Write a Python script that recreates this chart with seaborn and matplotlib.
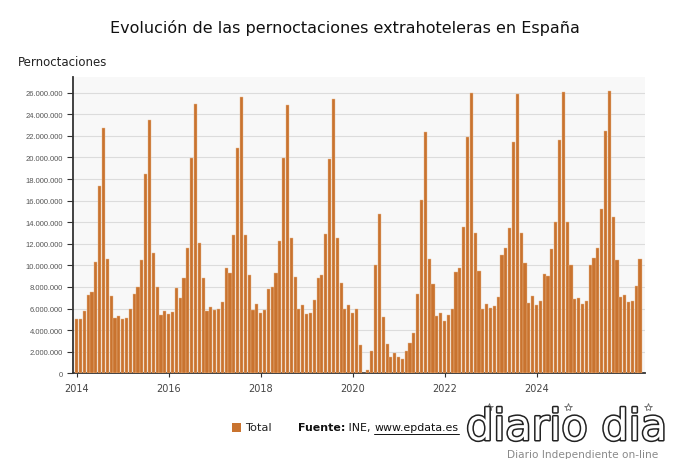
import numpy as np
import pandas as pd
import matplotlib
matplotlib.use("Agg")
import matplotlib.pyplot as plt
import matplotlib.patheffects as pe
from matplotlib.patches import Rectangle
from matplotlib.lines import Line2D
from matplotlib.ticker import FuncFormatter, FixedLocator
import seaborn as sns

# ---------------- data (millions of overnight stays, monthly) ----------------
years = ["2014", "2016", "2018", "2020", "2022", "2024"]
v2014 = [5.04, 5.00, 5.78, 7.23, 7.50, 10.30, 17.33, 22.76, 10.60, 7.14, 5.10, 5.35]
v2015 = [5.07, 5.10, 5.96, 7.35, 8.03, 10.50, 18.50, 23.50, 11.15, 8.03, 5.40, 5.78]
v2016 = [5.50, 5.68, 7.90, 6.95, 8.80, 11.60, 19.93, 24.93, 12.10, 8.80, 5.75, 6.15]
v2017 = [5.84, 5.93, 6.64, 9.79, 9.30, 12.82, 20.85, 25.58, 12.85, 9.08, 5.90, 6.40]
v2018 = [5.62, 5.84, 7.80, 7.97, 9.30, 12.30, 19.93, 24.87, 12.54, 8.90, 5.99, 6.33]
v2019 = [5.47, 5.62, 6.80, 8.87, 9.11, 12.90, 19.86, 25.39, 12.50, 8.37, 5.93, 6.33]
v2020 = [5.56, 6.00, 2.63, 0.02, 0.30, 2.07, 10.07, 14.76, 5.22, 2.72, 1.54, 1.88]
v2021 = [1.51, 1.33, 2.10, 2.78, 3.77, 7.38, 16.03, 22.33, 10.60, 8.31, 5.34, 5.56]
v2022 = [4.82, 5.40, 6.00, 9.42, 9.73, 13.56, 21.87, 25.95, 13.00, 9.45, 5.99, 6.46]
v2023 = [6.02, 6.21, 7.07, 10.94, 11.58, 13.47, 21.46, 25.85, 13.04, 10.19, 6.55, 7.14]
v2024 = [6.36, 6.70, 9.20, 8.99, 11.55, 14.05, 21.62, 26.04, 14.00, 10.07, 6.86, 6.95]
v2025 = [6.39, 6.67, 10.04, 10.72, 11.65, 15.23, 22.43, 26.19, 14.51, 10.47, 7.07, 7.26]
v2026 = [6.64, 6.67, 8.12, 10.60]

series = [v2014, v2015, v2016, v2017, v2018, v2019, v2020, v2021,
          v2022, v2023, v2024, v2025, v2026]
values = []
months = []
for k, s in enumerate(series):
    for m, v in enumerate(s):
        values.append(v * 1e6)
        months.append(f"{2014 + k}-{m + 1:02d}")

df = pd.DataFrame({"mes": months, "Total": values})

BAR = "#c9732f"

# ---------------- figure ----------------
sns.set_style("white")
plt.rcParams["font.family"] = ["DejaVu Sans"]

fig = plt.figure(figsize=(6.9, 4.6), dpi=100)
fig.patch.set_facecolor("white")
ax = fig.add_axes([73 / 690, 1 - 374.3 / 460, (645 - 73) / 690, (374.3 - 78) / 460])
ax.set_facecolor("#f8f8f8")

sns.barplot(data=df, x="mes", y="Total", color=BAR, saturation=1, width=0.82,
            edgecolor="#e9b98e", linewidth=0.3, ax=ax, zorder=3)

ax.set_xlim(-0.95, len(values) + 0.3)
ax.set_ylim(0, 27.45e6)

# y axis
ax.yaxis.set_major_locator(FixedLocator(np.arange(0, 26.5e6, 2e6)))
ax.yaxis.set_major_formatter(FuncFormatter(lambda v, p: f"{int(round(v)):,}".replace(",", ".")))
ax.tick_params(axis="y", which="major", length=4, width=0.8, color="#333333",
               labelsize=5.5, labelcolor="#555555", pad=3, direction="out", left=True)
for lab in ax.get_yticklabels():
    lab.set_family(["Liberation Sans", "DejaVu Sans"])
ax.grid(axis="y", color="#dcdcdc", linewidth=0.8, zorder=0)
ax.grid(axis="x", visible=False)

# x axis
xticks = [24 * i for i in range(len(years))]
ax.set_xticks(xticks)
ax.set_xticklabels(years)
ax.tick_params(axis="x", length=3, width=0.8, color="#333333", labelsize=7,
               labelcolor="#444444", pad=4, bottom=True)
ax.set_xlabel("")
ax.set_ylabel("")

for side in ["top", "right"]:
    ax.spines[side].set_visible(False)
ax.spines["left"].set_color("#333333")
ax.spines["left"].set_linewidth(1.3)
ax.spines["bottom"].set_color("#333333")
ax.spines["bottom"].set_linewidth(1.3)
ax.set_axisbelow(True)

# ---------------- texts ----------------
fig.text(0.5, 1 - 28 / 460, "Evolución de las pernoctaciones extrahoteleras en España",
         ha="center", va="center", fontsize=11.5, color="#111111")
fig.text(18 / 690, 1 - 62 / 460, "Pernoctaciones", ha="left", va="center",
         fontsize=8.5, color="#222222")

# legend
fig.patches.append(Rectangle((232 / 690, 1 - 433 / 460), 9 / 690, 9 / 460,
                             transform=fig.transFigure, facecolor=BAR, edgecolor="none"))
fig.text(245 / 690, 1 - 428.5 / 460, "Total", ha="left", va="center", fontsize=8.2, color="#222222")

# source
fs = 7.9
t1 = fig.text(298 / 690, 1 - 428.5 / 460, "Fuente:", ha="left", va="center",
              fontsize=fs, fontweight="bold", color="#111111")
fig.canvas.draw()
r = fig.canvas.get_renderer()
bb = t1.get_window_extent(r)
x2 = bb.x1 / fig.bbox.width
t2 = fig.text(x2, 1 - 428.5 / 460, " INE, ", ha="left", va="center", fontsize=fs, color="#111111")
bb2 = t2.get_window_extent(r)
x3 = bb2.x1 / fig.bbox.width
t3 = fig.text(x3, 1 - 428.5 / 460, "www.epdata.es", ha="left", va="center", fontsize=fs, color="#111111")
bb3 = t3.get_window_extent(r)
fig.lines.append(Line2D([bb3.x0 / fig.bbox.width, bb3.x1 / fig.bbox.width],
                        [1 - 435 / 460, 1 - 435 / 460], transform=fig.transFigure,
                        color="#111111", linewidth=0.7))

# logo
fig.text(466 / 690, 1 - 441 / 460, "diario dia", ha="left", va="baseline", fontsize=31,
         color="white", family=["DejaVu Sans"],
         path_effects=[pe.withStroke(linewidth=2.2, foreground="#222222")])
for sx in [489, 568, 648]:
    fig.lines.append(Line2D([sx / 690], [1 - 408 / 460], transform=fig.transFigure,
                            marker="*", markersize=6, markerfacecolor="white",
                            markeredgecolor="#666666", markeredgewidth=0.6, linestyle="none"))
fig.text(583 / 690, 1 - 455 / 460, "Diario Independiente on-line", ha="center", va="center",
         fontsize=7.6, color="#8a8a8a")

fig.savefig("out.png", dpi=100, facecolor="white")
